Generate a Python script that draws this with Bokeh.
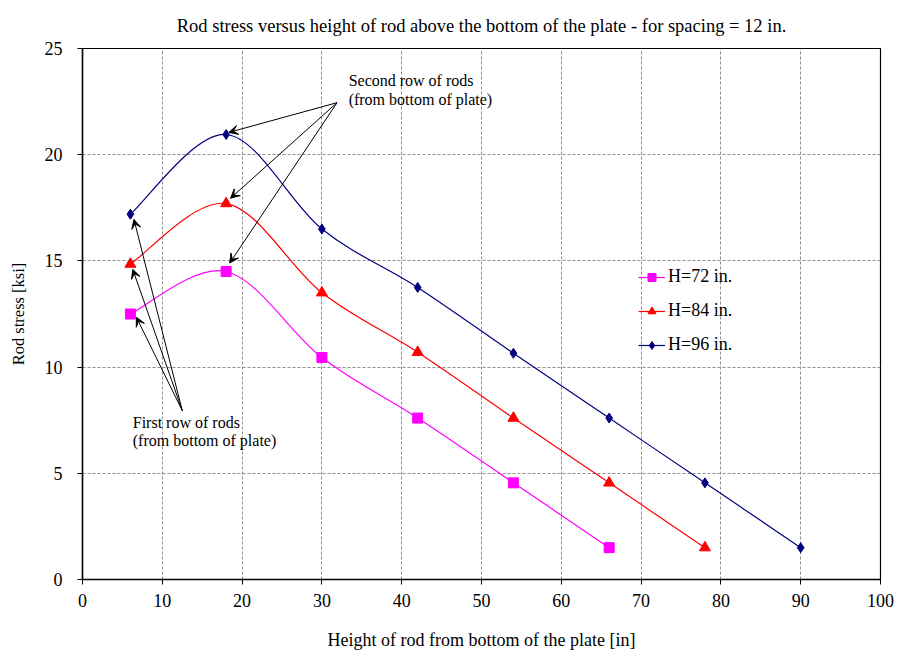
import numpy as np
from bokeh.plotting import figure
from bokeh.models import (Arrow, VeeHead, Label, Legend, LegendItem, Range1d,
                          FixedTicker)
from bokeh.embed import file_html
from bokeh.resources import INLINE

# ---- data ----
x72 = [6, 18, 30, 42, 54, 66]
y72 = [12.5, 14.5, 10.45, 7.6, 4.55, 1.5]
x84 = [6, 18, 30, 42, 54, 66, 78]
y84 = [14.85, 17.7, 13.5, 10.7, 7.6, 4.55, 1.5]
x96 = [6, 18, 30, 42, 54, 66, 78, 90]
y96 = [17.2, 20.95, 16.5, 13.75, 10.65, 7.6, 4.55, 1.5]
labels = ["H=72 in.", "H=84 in.", "H=96 in."]
x_ticks = [0, 10, 20, 30, 40, 50, 60, 70, 80, 90, 100]
y_ticks = [0, 5, 10, 15, 20, 25]

# annotation arrows (tail -> head)
second_tail = (31.9, 22.45)
second_heads_x = [18.35, 18.55, 18.45]
second_heads_y = [21.05, 17.95, 14.9]
first_tail = (12.5, 7.95)
first_heads_x = [6.45, 6.3, 6.75]
first_heads_y = [16.95, 14.6, 12.35]

FONT = "Liberation Serif"

p = figure(width=898, height=655, output_backend="svg", toolbar_location=None,
           x_range=Range1d(0, 100), y_range=Range1d(0, 25),
           min_border_left=82, min_border_right=18, min_border_top=47,
           min_border_bottom=76)

p.title.text = "Rod stress versus height of rod above the bottom of the plate - for spacing = 12 in."
p.title.align = "center"
p.title.text_font = FONT
p.title.text_font_size = "18.5px"
p.title.text_font_style = "normal"
p.title.text_color = "black"
p.title.offset = 0
p.title.standoff = 26

p.outline_line_color = "black"
p.outline_line_width = 1.2
p.background_fill_color = "white"
p.border_fill_color = "white"

for ax in (p.xaxis, p.yaxis):
    ax.axis_line_color = "black"
    ax.axis_line_width = 1.5
    ax.major_tick_line_color = "black"
    ax.major_tick_out = 5
    ax.major_tick_in = 0
    ax.minor_tick_line_color = None
    ax.major_label_text_font = FONT
    ax.major_label_text_font_size = "18px"
    ax.major_label_text_color = "black"
    ax.axis_label_text_font = FONT
    ax.axis_label_text_font_style = "normal"
    ax.axis_label_text_color = "black"

p.xaxis.ticker = FixedTicker(ticks=x_ticks)
p.yaxis.ticker = FixedTicker(ticks=y_ticks)
p.xaxis.axis_label = "Height of rod from bottom of the plate [in]"
p.yaxis.axis_label = "Rod stress [ksi]"
p.xaxis.axis_label_text_font_size = "18px"
p.yaxis.axis_label_text_font_size = "16.5px"
p.xaxis.major_label_standoff = 9
p.xaxis.axis_label_standoff = 20
p.yaxis.major_label_standoff = 15
p.yaxis.axis_label_standoff = 14

p.grid.grid_line_color = "#8c8c8c"
p.grid.grid_line_dash = "3 2"
p.grid.grid_line_width = 1


def bezier_segments(xs, ys):
    P = np.column_stack([xs, ys]).astype(float)
    ext = np.vstack([P[0], P, P[-1]])
    out = {k: [] for k in ("x0", "y0", "x1", "y1", "cx0", "cy0", "cx1", "cy1")}
    for i in range(len(P) - 1):
        p0, p1, p2, p3 = ext[i], ext[i + 1], ext[i + 2], ext[i + 3]
        c1 = p1 + (p2 - p0) / 6.0
        c2 = p2 - (p3 - p1) / 6.0
        out["x0"].append(p1[0]); out["y0"].append(p1[1])
        out["x1"].append(p2[0]); out["y1"].append(p2[1])
        out["cx0"].append(c1[0]); out["cy0"].append(c1[1])
        out["cx1"].append(c2[0]); out["cy1"].append(c2[1])
    return out


series = [
    (x72, y72, "#FF00FF", "square", 10),
    (x84, y84, "#FF0000", "triangle", 11),
    (x96, y96, "#000080", "diamond", 10),
]

items = []
for (xs, ys, col, mk, sz), lab in zip(series, labels):
    seg = bezier_segments(xs, ys)
    p.bezier(line_color=col, line_width=1.2, **seg)
    leg_line = p.line([np.nan, np.nan], [np.nan, np.nan], line_color=col, line_width=1.2)
    sc = p.scatter(xs, ys, marker=mk, size=sz, fill_color=col, line_color=col)
    items.append(LegendItem(label=lab, renderers=[leg_line, sc]))

legend = Legend(items=items, location=(556, 224), orientation="vertical",
                border_line_alpha=0, background_fill_alpha=0,
                label_text_font=FONT, label_text_font_size="18px",
                label_text_color="black", glyph_width=27, glyph_height=20,
                label_height=20, label_standoff=3, spacing=13, padding=0, margin=0)
p.add_layout(legend, "center")

# arrows
for hx, hy in zip(second_heads_x, second_heads_y):
    p.add_layout(Arrow(end=VeeHead(size=9, line_color="black", fill_color="black", line_width=1),
                       x_start=second_tail[0], y_start=second_tail[1], x_end=hx, y_end=hy,
                       line_color="black", line_width=1))
for hx, hy in zip(first_heads_x, first_heads_y):
    p.add_layout(Arrow(end=VeeHead(size=9, line_color="black", fill_color="black", line_width=1),
                       x_start=first_tail[0], y_start=first_tail[1], x_end=hx, y_end=hy,
                       line_color="black", line_width=1))

# annotation texts
ann = [
    (33.35, 23.9, "Second  row of rods"),
    (33.35, 23.0, "(from bottom of plate)"),
    (6.3, 7.8, "First row of rods"),
    (6.3, 6.95, "(from bottom of plate)"),
]
for ax_, ay_, t in ann:
    p.add_layout(Label(x=ax_, y=ay_, text=t, text_font=FONT, text_font_size="16px",
                       text_color="black", text_baseline="top", text_align="left"))

open("out.html", "w").write(file_html(p, INLINE))
